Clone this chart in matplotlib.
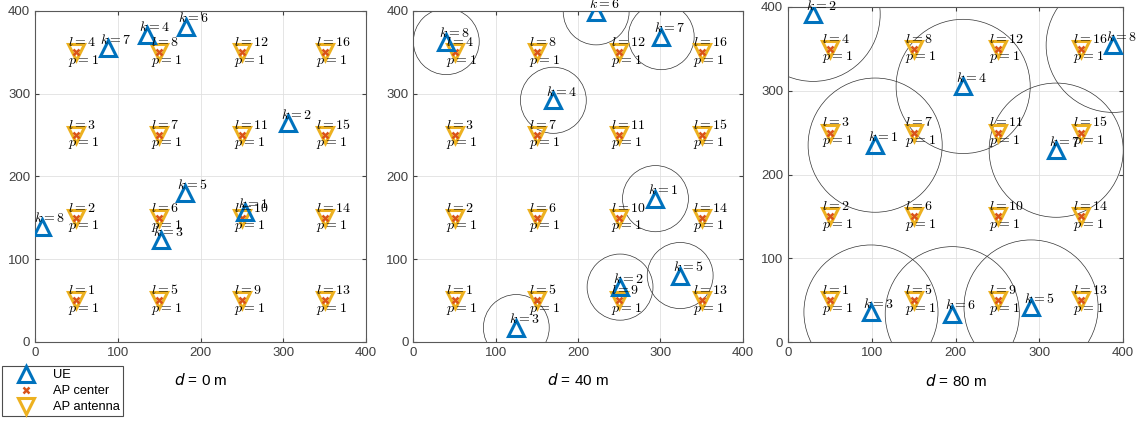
import numpy as np
import matplotlib.pyplot as plt
from matplotlib.lines import Line2D
from matplotlib.patches import Circle

plt.rcParams['font.family'] = ['Liberation Sans', 'DejaVu Sans']
plt.rcParams['mathtext.fontset'] = 'cm'

# AP grid (l = 1..16, column major)
ap_x = [50, 50, 50, 50, 150, 150, 150, 150, 250, 250, 250, 250, 350, 350, 350, 350]
ap_y = [50, 150, 250, 350, 50, 150, 250, 350, 50, 150, 250, 350, 50, 150, 250, 350]
ap_p = [1] * 16

# UE positions (k = 1..8) for each d
dists = [0, 40, 80]
ue_x = [
    [254, 306, 152, 135, 181, 182, 88, 8],
    [294, 251, 125, 170, 324, 222, 301, 40],
    [104, 30, 99, 209, 290, 196, 320, 388],
]
ue_y = [
    [157, 264, 123, 371, 180, 381, 355, 139],
    [173, 66, 17, 292, 80, 399, 369, 363],
    [235, 391, 36, 305, 42, 34, 229, 354],
]

c_ue = '#0072BD'
c_ctr = '#D95319'
c_ant = '#EDB120'

fig = plt.figure(figsize=(11.45, 4.21), dpi=100)
positions = [
    [0.0306, 0.1884, 0.2891, 0.7855],
    [0.3610, 0.1884, 0.2877, 0.7855],
    [0.6882, 0.1870, 0.2928, 0.7970],
]

for i, d in enumerate(dists):
    ax = fig.add_axes(positions[i])
    ax.set_xlim(0, 400)
    ax.set_ylim(0, 400)
    ax.set_xticks([0, 100, 200, 300, 400])
    ax.set_yticks([0, 100, 200, 300, 400])
    ax.grid(True, color='0.88', lw=0.6)
    ax.set_axisbelow(True)
    ax.tick_params(direction='in', length=3, labelsize=9.5, colors='0.25',
                   top=True, right=True)
    for s in ax.spines.values():
        s.set_color('0.35')
        s.set_linewidth(0.8)

    ax.plot(ap_x, ap_y, 'v', ms=12, mfc='none', mec=c_ant, mew=2.2, zorder=3)
    ax.plot(ap_x, ap_y, 'x', ms=5, mec=c_ctr, mew=1.8, zorder=4)
    ax.plot(ue_x[i], ue_y[i], '^', ms=11, mfc='none', mec=c_ue, mew=2.2, zorder=5)

    if d > 0:
        for x, y in zip(ue_x[i], ue_y[i]):
            ax.add_patch(Circle((x, y), d, fill=False, ec='0.2', lw=0.5, zorder=2))

    for j, (x, y) in enumerate(zip(ap_x, ap_y)):
        ax.text(x - 10, y + 12, r'$l = %d$' % (j + 1), fontsize=10, va='center', zorder=6)
        ax.text(x - 10, y - 10, r'$p = %d$' % ap_p[j], fontsize=10, va='center', zorder=6)
    for k, (x, y) in enumerate(zip(ue_x[i], ue_y[i])):
        ax.text(x - 9, y + 10, r'$k = %d$' % (k + 1), fontsize=10, va='center',
                zorder=6, clip_on=False)

    ax.text(0.5, -0.116, r'$d$ = %d m' % d, transform=ax.transAxes, ha='center',
            va='center', fontsize=11, math_fontfamily='dejavusans')

handles = [
    Line2D([], [], ls='none', marker='^', ms=11, mfc='none', mec=c_ue, mew=2.2),
    Line2D([], [], ls='none', marker='x', ms=5, mec=c_ctr, mew=1.8),
    Line2D([], [], ls='none', marker='v', ms=12, mfc='none', mec=c_ant, mew=2.2),
]
leg = fig.legend(handles, ['UE', 'AP center', 'AP antenna'], loc='upper left',
                 bbox_to_anchor=(2 / 1145, 1 - 366 / 421), fontsize=9.3,
                 fancybox=False, edgecolor='0.3', framealpha=1,
                 borderpad=0.25, labelspacing=0.3, handletextpad=0.5,
                 handlelength=3.2, borderaxespad=0)
leg.get_frame().set_linewidth(0.8)

fig.savefig('out.png', dpi=100)
